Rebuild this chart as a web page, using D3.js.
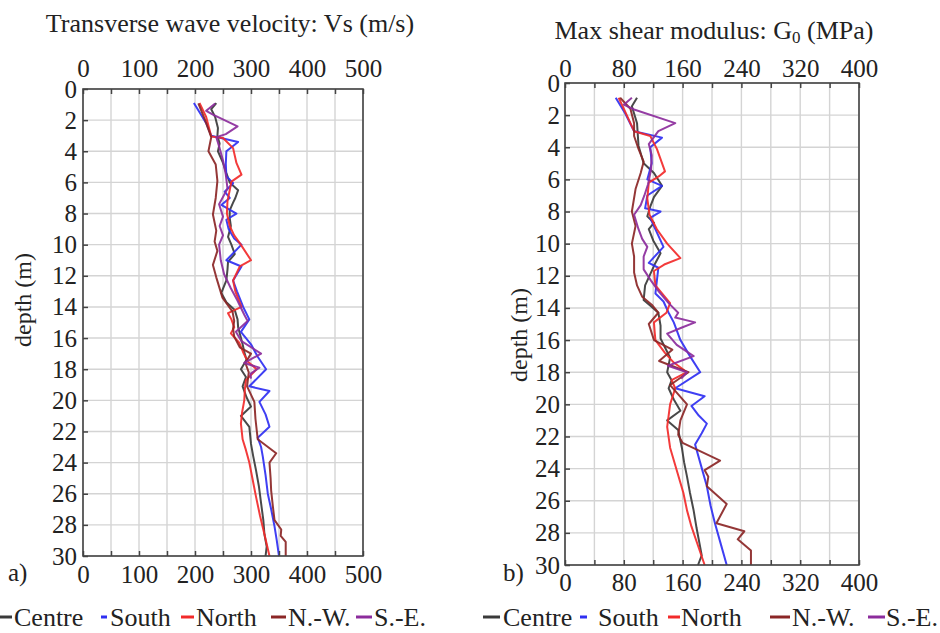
<!DOCTYPE html>
<html>
<head>
<meta charset="utf-8">
<script src="https://cdn.jsdelivr.net/npm/d3@7"></script>
<style>
  body { margin: 0; background: #fff; }
  svg text { font-family: "Liberation Serif", "Times New Roman", serif; fill: #222; }
</style>
</head>
<body>
<svg id="chart" width="940" height="633"></svg>
<script>
// series names + colours
const seriesNames = ["Centre", "South", "North", "N.-W.", "S.-E."];
const seriesColors = ["#3a3a3a", "#2f2ff2", "#f22a2a", "#8b2626", "#8c2c9c"];

// tick values
const depthTicks = [0, 2, 4, 6, 8, 10, 12, 14, 16, 18, 20, 22, 24, 26, 28, 30];
const vsLabels = [0, 100, 200, 300, 400, 500];
const vsGrid = [0, 50, 100, 150, 200, 250, 300, 350, 400, 450, 500];
const g0Labels = [0, 80, 160, 240, 320, 400];
const g0Grid = [0, 40, 80, 120, 160, 200, 240, 280, 320, 360, 400];

// a) Vs (m/s), pairs of [depth, value]
const vsCentre = [[0.9,238],[1.3,229],[1.8,236],[2.5,241],[3.0,240],[3.5,244],[4.0,241],[4.75,250],[5.4,256],[6.0,262],[6.5,277],[7.0,272],[7.3,268],[7.8,262],[8.3,262],[8.8,264],[9.5,259],[10.0,265],[10.6,271],[11.1,259],[11.6,258],[12.3,256],[13.1,247],[13.7,256],[14.2,271],[14.8,276],[15.3,277],[15.7,280],[16.4,285],[16.9,288],[17.4,292],[18.0,282],[18.5,291],[19.1,285],[19.8,292],[20.4,300],[21.0,282],[21.7,297],[22.8,300],[23.6,304],[24.5,309],[25.5,314],[26.6,318],[27.7,322],[28.6,324],[29.4,328],[30,326]];
const vsSouth = [[0.9,198],[1.6,210],[2.2,220],[3.0,229],[3.4,277],[4.0,256],[4.8,255],[5.6,256],[6.05,268],[6.6,253],[7.0,262],[7.45,247],[8.0,274],[8.4,256],[9.0,260],[9.6,270],[10.0,283],[11.0,256],[11.4,283],[12.3,268],[13.0,275],[14.0,286],[14.8,297],[15.6,282],[16.4,300],[17.2,312],[18.0,327],[19.1,297],[19.4,333],[20.1,315],[20.9,326],[21.7,333],[22.4,312],[23.0,318],[23.6,321],[24.8,326],[26.0,330],[27.0,336],[28.1,342],[29.0,346],[30,350]];
const vsNorth = [[0.9,208],[1.8,220],[3.05,229],[3.15,250],[3.8,268],[4.75,274],[5.5,283],[5.95,265],[6.5,262],[7.2,258],[8.0,257],[8.8,262],[9.4,270],[9.9,280],[11.0,300],[11.4,280],[12.3,268],[13.0,272],[14.0,283],[14.4,259],[14.8,265],[15.3,270],[15.7,264],[16.3,279],[17.0,287],[17.5,294],[18.0,310],[18.7,291],[19.3,289],[20.0,288],[20.8,284],[21.5,282],[22.5,285],[23.2,291],[24.0,297],[25.1,303],[26.2,309],[27.4,316],[28.6,324],[30,333]];
const vsNW = [[0.93,206],[2.0,218],[3.1,229],[4.0,224],[4.85,237],[5.9,240],[7.0,237],[8.06,232],[9.1,238],[9.8,235],[10.4,240],[11.3,232],[12.1,238],[13.4,249],[14.3,267],[14.9,270],[15.4,268],[15.9,270],[16.6,280],[17.0,300],[17.6,290],[18.2,296],[19.1,293],[20.1,306],[21.2,308],[22.5,312],[23.4,345],[24.0,333],[25.0,335],[25.8,336],[26.8,339],[27.7,342],[28.3,354],[28.7,353],[29.1,362],[30,362]];
const vsSE = [[0.93,236],[1.4,220],[1.64,232],[2.4,276],[2.9,255],[3.1,238],[3.8,244],[4.6,250],[5.5,255],[6.4,258],[7.4,243],[8.2,250],[8.8,244],[9.4,250],[10.0,243],[11.0,246],[11.9,252],[12.8,264],[13.6,276],[14.5,288],[14.9,294],[15.6,273],[16.2,283],[17.0,318],[17.6,288],[17.9,315],[18.3,299],[18.6,300]];

// b) G0 (MPa)
const g0Centre = [[0.92,98],[1.45,91],[2.5,98],[3.9,100],[5.0,107],[5.6,121],[6.4,132],[7.1,121],[7.7,116],[8.3,112],[8.7,121],[9.1,114],[9.8,120],[10.6,130],[11.2,123],[11.9,116],[12.6,109],[13.5,107],[13.9,117],[14.3,127],[15.1,130],[15.9,130],[17.1,143],[18.0,139],[18.5,145],[19.0,141],[19.7,148],[20.4,157],[21.0,139],[21.6,154],[22.7,159],[23.6,162],[24.5,166],[25.5,170],[26.6,175],[27.7,179],[28.9,184],[29.4,186],[30,181]];
const g0South = [[0.92,69],[1.9,82],[3.0,94],[3.4,132],[4.0,116],[5.0,118],[6.0,112],[6.4,132],[7.0,112],[7.8,109],[8.0,130],[8.4,116],[9.2,124],[10.2,134],[11.2,114],[11.5,127],[12.3,125],[13.1,123],[13.6,134],[14.3,141],[14.9,148],[16.0,157],[17.0,170],[18.0,184],[19.0,150],[19.5,190],[20.1,172],[20.7,182],[21.2,193],[21.8,186],[22.5,177],[23.8,185],[25.1,193],[26.3,198],[27.4,204],[28.7,212],[30,220]];
const g0North = [[0.92,73],[1.6,80],[3.0,94],[3.3,116],[4.1,125],[5.5,136],[5.8,128],[6.2,114],[7.2,112],[8.2,115],[9.1,125],[10.0,139],[10.9,157],[11.3,135],[11.7,121],[12.6,123],[13.7,143],[14.3,138],[14.9,121],[15.5,122],[16.0,123],[16.8,136],[17.4,148],[18.0,166],[18.5,145],[19.0,150],[20.0,143],[21.4,139],[22.7,143],[24.1,152],[25.5,161],[26.6,166],[27.6,172],[28.8,181],[30,190]];
const g0NW = [[0.92,75],[1.6,89],[2.5,94],[3.3,94],[4.1,100],[4.9,107],[5.6,103],[6.6,96],[8.0,91],[8.9,96],[10.0,91],[10.8,94],[11.8,94],[12.6,98],[13.3,105],[13.8,118],[14.3,127],[15.0,114],[16.0,121],[16.6,146],[17.3,128],[18.0,168],[18.8,143],[20.0,166],[21.0,157],[21.9,154],[22.4,160],[23.5,211],[24.1,190],[24.5,195],[25.1,193],[26.2,220],[27.4,206],[27.9,244],[28.4,235],[29.1,253],[30,253]];
const g0SE = [[0.92,91],[1.35,80],[1.65,94],[2.5,150],[3.0,127],[3.8,114],[4.5,118],[5.4,117],[6.3,113],[7.0,108],[7.6,103],[8.2,94],[9.1,100],[9.7,105],[10.2,112],[10.8,107],[11.6,107],[12.3,117],[13.0,128],[13.7,141],[14.3,154],[14.6,150],[14.9,177],[15.2,160],[15.6,139],[16.3,152],[17.0,175],[17.6,140],[18.0,166],[18.4,158]];

const vsSeries = [vsCentre, vsSouth, vsNorth, vsNW, vsSE];
const g0Series = [g0Centre, g0South, g0North, g0NW, g0SE];

const svg = d3.select("#chart");

function drawPanel(p) {
    const x = d3.scaleLinear().domain(p.xDomain).range([p.left, p.right]);
    const y = d3.scaleLinear().domain([0, 30]).range([p.top, p.bottom]);
    const g = svg.append("g");

    // grid
    g.selectAll(".vgrid").data(p.grid).enter().append("line")
        .attr("x1", d => x(d)).attr("x2", d => x(d))
        .attr("y1", p.top).attr("y2", p.bottom)
        .attr("stroke", "#d4d4d4").attr("stroke-width", 1.4);
    g.selectAll(".hgrid").data(depthTicks).enter().append("line")
        .attr("x1", p.left).attr("x2", p.right)
        .attr("y1", d => y(d)).attr("y2", d => y(d))
        .attr("stroke", "#d4d4d4").attr("stroke-width", 1.4);

    // series
    const line = d3.line().x(d => x(d[1])).y(d => y(d[0]));
    p.series.forEach(function (s, i) {
        g.append("path")
            .datum(s)
            .attr("d", line)
            .attr("fill", "none")
            .attr("stroke", seriesColors[i])
            .attr("stroke-width", 2)
            .attr("stroke-linejoin", "round")
            .attr("opacity", 0.92);
    });

    const fmt = d => p.labels.includes(d) ? d : "";

    // axes (inside ticks)
    const top = g.append("g").attr("transform", `translate(0,${p.top})`)
        .call(d3.axisTop(x).tickValues(p.grid).tickFormat(fmt).tickSize(-5).tickPadding(p.topPad));
    const bot = g.append("g").attr("transform", `translate(0,${p.bottom})`)
        .call(d3.axisBottom(x).tickValues(p.grid).tickFormat(fmt).tickSize(-5).tickPadding(p.botPad));
    const left = g.append("g").attr("transform", `translate(${p.left},0)`)
        .call(d3.axisLeft(y).tickValues(depthTicks).tickSize(-5).tickPadding(p.leftPad));
    [top, bot, left].forEach(function (a) {
        a.select(".domain").remove();
        a.selectAll(".tick line").attr("stroke", "#444").attr("stroke-width", 1.5);
        a.selectAll("text").attr("font-size", 25).attr("fill", "#222")
            .style("font-family", "'Liberation Serif', 'Times New Roman', serif");
    });

    // frame
    g.append("rect")
        .attr("x", p.left).attr("y", p.top)
        .attr("width", p.right - p.left).attr("height", p.bottom - p.top)
        .attr("fill", "none").attr("stroke", "#444").attr("stroke-width", 1.6);

    // y label
    g.append("text")
        .attr("transform", `translate(${p.yLabelX},${p.yLabelY}) rotate(-90)`)
        .attr("text-anchor", "middle")
        .attr("font-size", 24)
        .text("depth (m)");

    // panel letter
    g.append("text").attr("x", p.letterX).attr("y", 581).attr("font-size", 25).text(p.letter);
}

drawPanel({
    xDomain: [0, 500], left: 83, right: 363, top: 89, bottom: 556,
    grid: vsGrid, labels: vsLabels, series: vsSeries,
    topPad: 12, botPad: 9, leftPad: 6,
    yLabelX: 31, yLabelY: 300, letter: "a)", letterX: 8
});
drawPanel({
    xDomain: [0, 400], left: 565, right: 859, top: 83, bottom: 565,
    grid: g0Grid, labels: g0Labels, series: g0Series,
    topPad: 6, botPad: 8, leftPad: 5,
    yLabelX: 527, yLabelY: 335, letter: "b)", letterX: 503
});

// titles
svg.append("text").attr("x", 230).attr("y", 32).attr("text-anchor", "middle")
    .attr("font-size", 26).text("Transverse wave velocity: Vs (m/s)");
const t2 = svg.append("text").attr("x", 714).attr("y", 39).attr("text-anchor", "middle")
    .attr("font-size", 26);
t2.append("tspan").text("Max shear modulus: G");
t2.append("tspan").attr("font-size", 17).attr("dy", 4).text("0");
t2.append("tspan").attr("dy", -4).text(" (MPa)");

// legends: [swatch x, swatch length, text x]
const legendLeft = [[0, 12, 14], [101, 6, 110], [181, 13, 196], [271, 15, 288], [356, 16, 374]];
const legendRight = [[483, 17, 503], [580, 7, 598], [668, 12, 681], [770, 20, 792], [868, 17, 886]];
[legendLeft, legendRight].forEach(function (pos) {
    const lg = svg.append("g");
    seriesNames.forEach(function (name, i) {
        const [sx, len, tx] = pos[i];
        lg.append("line")
            .attr("x1", sx).attr("x2", sx + len)
            .attr("y1", 617).attr("y2", 617)
            .attr("stroke", seriesColors[i]).attr("stroke-width", 3);
        lg.append("text")
            .attr("x", tx).attr("y", 626)
            .attr("font-size", 26)
            .text(name);
    });
});
</script>
</body>
</html>
